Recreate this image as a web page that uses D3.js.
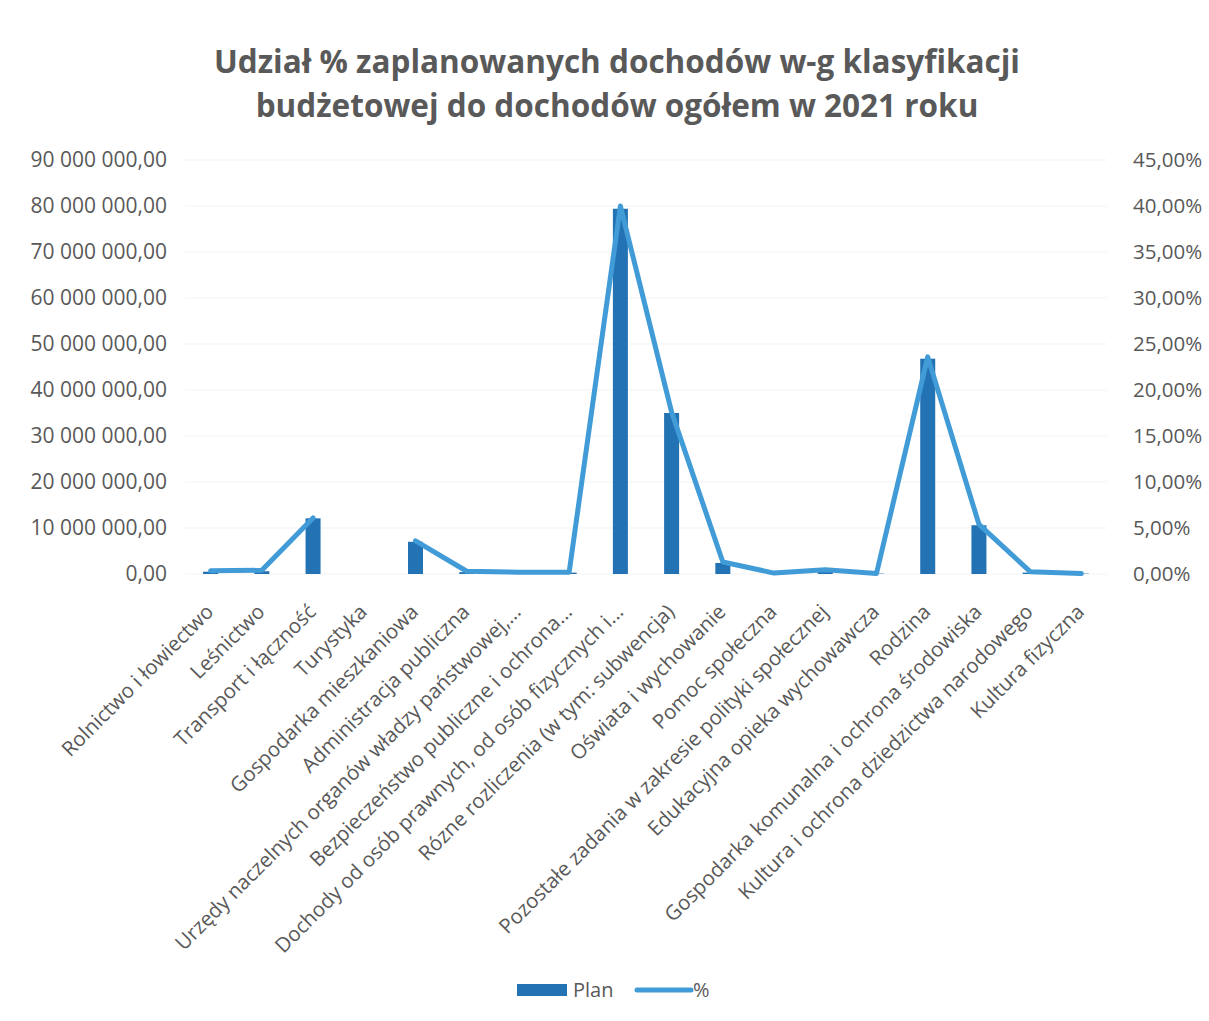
<!DOCTYPE html>
<html>
<head>
<meta charset="utf-8">
<title>Udział % zaplanowanych dochodów</title>
<script src="https://d3js.org/d3.v7.min.js"></script>
<style>
  body { margin: 0; background: #fff; font-family: "Open Sans", sans-serif; }
  .tick text { fill: #595959; }
</style>
</head>
<body>
<svg width="1209" height="1021"></svg>
<script>
// kategorie klasyfikacji budżetowej (działy)
var categories = [
  "Rolnictwo i łowiectwo",
  "Leśnictwo",
  "Transport i łączność",
  "Turystyka",
  "Gospodarka mieszkaniowa",
  "Administracja publiczna",
  "Urzędy naczelnych organów władzy państwowej,...",
  "Bezpieczeństwo publiczne i ochrona...",
  "Dochody od osób prawnych, od osób fizycznych i...",
  "Rózne rozliczenia (w tym: subwencja)",
  "Oświata i wychowanie",
  "Pomoc społeczna",
  "Pozostałe zadania w zakresie polityki społecznej",
  "Edukacyjna opieka wychowawcza",
  "Rodzina",
  "Gospodarka komunalna i ochrona środowiska",
  "Kultura i ochrona dziedzictwa narodowego",
  "Kultura fizyczna"
];
// plan dochodów (zł)
var plan = [500000, 600000, 12100000, null, 7000000, 400000, 300000, 300000,
            79400000, 35000000, 2400000, 150000, 600000, 80000,
            46800000, 10600000, 300000, 80000];
// udział % w dochodach ogółem
var percent = [0.35, 0.4, 6.1, null, 3.6, 0.3, 0.2, 0.2,
               40.0, 17.6, 1.3, 0.1, 0.45, 0.05,
               23.6, 5.4, 0.25, 0.05];
var leftTicks = d3.range(0, 90000001, 10000000);
var rightTicks = d3.range(0, 45.01, 5);

var svg = d3.select("svg"),
    margin = {top: 160, left: 185, right: 102, bottom: 447},
    width = 1209 - margin.left - margin.right,
    height = 1021 - margin.top - margin.bottom;

var fmtPlan = function(v) {
  return d3.format(",.2f")(v).replace(/,/g, " ").replace(".", ",");
};
var fmtPct = function(v) { return d3.format(".2f")(v).replace(".", ",") + "%"; };

// tytuł
var title = svg.append("text")
    .attr("x", 617).attr("y", 73)
    .attr("text-anchor", "middle")
    .style("font-size", "31.5px").style("font-weight", "bold").style("fill", "#595959");
title.append("tspan").attr("x", 617).attr("dy", 0).text("Udział % zaplanowanych dochodów w-g klasyfikacji");
title.append("tspan").attr("x", 617).attr("dy", 44).text("budżetowej do dochodów ogółem w 2021 roku");

var g = svg.append("g").attr("transform", "translate(" + margin.left + "," + margin.top + ")");

var x = d3.scaleBand().domain(categories).range([0, width]);
var y = d3.scaleLinear().domain([0, 90000000]).range([height, 0]);
var y2 = d3.scaleLinear().domain([0, 45]).range([height, 0]);

// siatka
g.append("g")
  .selectAll("line")
  .data(leftTicks)
  .enter().append("line")
    .attr("x1", 0).attr("x2", width)
    .attr("y1", function(d) { return y(d); })
    .attr("y2", function(d) { return y(d); })
    .style("stroke", "#f3f3f3");

// oś lewa
var yAxis = g.append("g")
    .call(d3.axisLeft(y).tickValues(leftTicks).tickFormat(fmtPlan).tickSize(0).tickPadding(18));
yAxis.select(".domain").remove();
yAxis.selectAll("text").style("font-size", "21px").attr("font-family", "Open Sans, sans-serif");

// oś prawa
var yAxis2 = g.append("g")
    .attr("transform", "translate(" + width + ",0)")
    .call(d3.axisRight(y2).tickValues(rightTicks).tickFormat(fmtPct).tickSize(0).tickPadding(26));
yAxis2.select(".domain").remove();
yAxis2.selectAll("text").style("font-size", "20.5px").attr("font-family", "Open Sans, sans-serif");

// oś x
var xAxis = g.append("g")
    .attr("transform", "translate(0," + height + ")")
    .call(d3.axisBottom(x).tickSize(0));
xAxis.select(".domain").remove();
xAxis.selectAll("text")
    .style("font-size", "20.5px")
    .attr("font-family", "Open Sans, sans-serif")
    .style("text-anchor", "end")
    .attr("dx", "0")
    .attr("dy", "0")
    .attr("transform", "translate(2,37) rotate(-45)");

// słupki
var barW = 15;
g.append("g")
  .selectAll("rect")
  .data(categories.map(function(c, i) { return {c: c, v: plan[i]}; }).filter(function(d) { return d.v != null; }))
  .enter().append("rect")
    .attr("x", function(d) { return x(d.c) + x.bandwidth() / 2 - barW / 2; })
    .attr("width", barW)
    .attr("y", function(d) { return y(d.v); })
    .attr("height", function(d) { return height - y(d.v); })
    .style("fill", "#2272b4");

// linia %
var line = d3.line()
    .defined(function(d) { return d.v != null; })
    .x(function(d) { return x(d.c) + x.bandwidth() / 2; })
    .y(function(d) { return y2(d.v); });
g.append("path")
    .datum(categories.map(function(c, i) { return {c: c, v: percent[i]}; }))
    .attr("d", line)
    .style("fill", "none")
    .style("stroke", "#419bd6")
    .style("stroke-width", 5)
    .style("stroke-linejoin", "round")
    .style("stroke-linecap", "round");

// legenda
var leg = svg.append("g").attr("transform", "translate(517,990)");
leg.append("rect").attr("x", 0).attr("y", -6).attr("width", 50).attr("height", 12).style("fill", "#2272b4");
leg.append("text").attr("x", 56).attr("y", 7).text("Plan")
    .style("font-size", "20px").style("fill", "#595959");
leg.append("line").attr("x1", 120).attr("x2", 174).attr("y1", 0).attr("y2", 0)
    .style("stroke", "#419bd6").style("stroke-width", 5).style("stroke-linecap", "round");
leg.append("text").attr("x", 176).attr("y", 7).text("%")
    .style("font-size", "20px").style("fill", "#595959");
</script>
</body>
</html>
